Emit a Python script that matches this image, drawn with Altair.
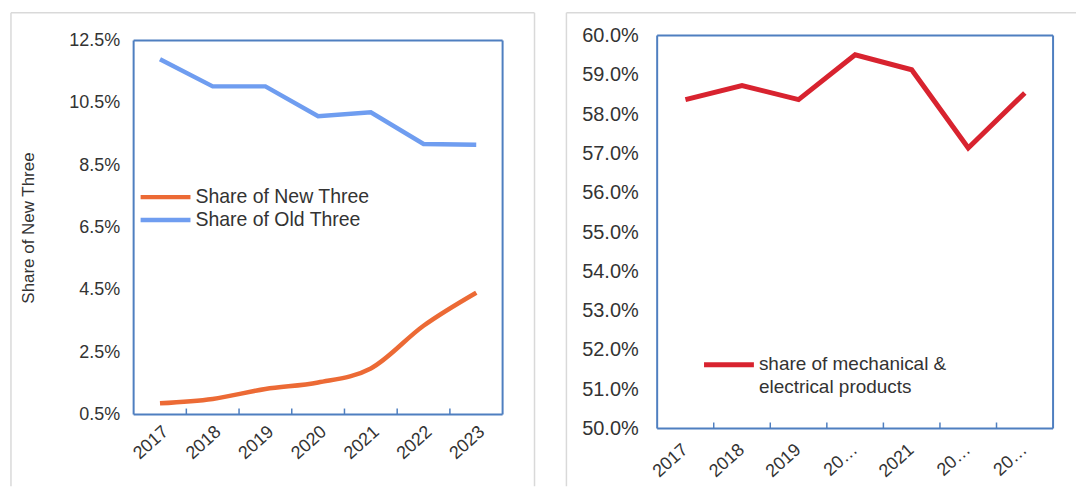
import altair as alt
import pandas as pd

# ---- data -------------------------------------------------------------
years = ["2017", "2018", "2019", "2020", "2021", "2022", "2023"]

new_three_share = [0.0086, 0.0100, 0.0132, 0.0153, 0.0198, 0.0335, 0.0441]
old_three_share = [0.1190, 0.1103, 0.1103, 0.1007, 0.1020, 0.0918, 0.0916]
mech_elec_share = [0.5837, 0.5873, 0.5837, 0.5951, 0.5913, 0.5714, 0.5854]

left_ticks = [0.005, 0.025, 0.045, 0.065, 0.085, 0.105, 0.125]
right_ticks = [0.50, 0.51, 0.52, 0.53, 0.54, 0.55, 0.56, 0.57, 0.58, 0.59, 0.60]

series_names = ["Share of New Three", "Share of Old Three"]
series_colors = ["#ec6a35", "#6f9df0"]
mech_lines = ["share of mechanical &", "electrical products"]
mech_color = "#d8232f"
short_years = ["2020", "2022", "2023"]  # shown shortened on the right axis

# ---- style ------------------------------------------------------------
FONT = "Liberation Sans"
TEXT = "#333333"
FRAME = "#4f7fc0"
BOX = "#d9d9d9"

# left view spans the same vertical extent as the right one; its plot
# frame starts 5px below the view top
LW, LVH, LTOP = 370, 380, 5
RW, RH = 397, 394


def rule(x, y, x2=None, y2=None, color=BOX, width=1.5):
    enc = {"x": alt.value(x), "y": alt.value(y)}
    if x2 is not None:
        enc["x2"] = alt.value(x2)
    if y2 is not None:
        enc["y2"] = alt.value(y2)
    return alt.Chart(pd.DataFrame({"k": [0]})).mark_rule(
        color=color, strokeWidth=width).encode(**enc)


def plot_frame(top, w, h):
    return [rule(0, top, x2=w, color=FRAME, width=2),
            rule(0, h, x2=w, color=FRAME, width=2),
            rule(0, top, y2=h, color=FRAME, width=2),
            rule(w, top, y2=h, color=FRAME, width=2)]


def x_axis(offset, padding, label_expr=None):
    kw = dict(title=None, labelAngle=-42, labelAlign="right", labelBaseline="top",
              labelPadding=padding, labelOffset=offset, labelFontSize=18,
              labelFont=FONT, labelColor=TEXT, ticks=False, domain=False,
              labelOverlap=False, labelBound=False, labelLimit=200)
    if label_expr:
        kw["labelExpr"] = label_expr
    return alt.Axis(**kw)


def inner_ticks(h, scale, axis):
    tdf = pd.DataFrame({"year": years[:-1]})
    return alt.Chart(tdf).mark_rule(color=FRAME, strokeWidth=1.5).encode(
        x=alt.X("year:N", bandPosition=1, scale=scale, axis=axis),
        y=alt.value(h), y2=alt.value(h - 6))


def legend_entry(x, y, color, lines, width, font_size, line_height=23):
    sym = rule(x, y, x2=x + 50, color=color, width=width)
    label = alt.Chart(pd.DataFrame({"k": [0]})).mark_text(
        align="left", baseline="line-top", font=FONT, fontSize=font_size,
        color=TEXT, lineHeight=line_height).encode(
        x=alt.value(x + 55), y=alt.value(y - line_height / 2),
        text=alt.value(lines))
    return [sym, label]


# ---- left panel: New Three vs Old Three ----------------------------
left_df = pd.DataFrame({
    "year": years * 2,
    "share": new_three_share + old_three_share,
    "series": [series_names[0]] * len(years) + [series_names[1]] * len(years),
})

lx_scale = alt.Scale(type="band", domain=years, paddingInner=0, paddingOuter=0)
lx_axis = x_axis(0, 8)
ly = alt.Y("share:Q",
           scale=alt.Scale(domain=[0.005, 0.125], range=[LVH, LTOP], nice=False, zero=False),
           axis=alt.Axis(values=left_ticks, format=".1%", title="Share of New Three",
                         titleFont=FONT, titleFontSize=17, titleFontWeight="normal",
                         titleColor=TEXT, titleAngle=-90, titleX=-105,
                         titleY=(LVH + LTOP) / 2,
                         titleAlign="center", titleBaseline="middle",
                         labelFontSize=18, labelFont=FONT, labelColor=TEXT,
                         labelPadding=14, ticks=False, domain=False, grid=False))
lcolor = alt.Color("series:N",
                   scale=alt.Scale(domain=series_names, range=series_colors),
                   legend=None)

new_line = alt.Chart(left_df).transform_filter(
    alt.datum.series == series_names[0]).mark_line(
    strokeWidth=4.5, interpolate="monotone").encode(
    x=alt.X("year:N", bandPosition=0.5, scale=lx_scale, axis=lx_axis),
    y=ly, color=lcolor)
old_line = alt.Chart(left_df).transform_filter(
    alt.datum.series == series_names[1]).mark_line(strokeWidth=4.5).encode(
    x=alt.X("year:N", bandPosition=0.5, scale=lx_scale, axis=lx_axis),
    y=ly, color=lcolor)

left = alt.layer(
    rule(-123, -23, x2=402),
    rule(-123, -23, y2=452),
    rule(402, -23, y2=452),
    *plot_frame(LTOP, LW, LVH),
    inner_ticks(LVH, lx_scale, lx_axis),
    new_line, old_line,
    *legend_entry(7, 162, series_colors[0], series_names[0], 4.5, 19.5),
    *legend_entry(7, 185, series_colors[1], series_names[1], 4.5, 19.5),
).properties(width=LW, height=LVH)

# ---- right panel: mechanical & electrical products -----------------
right_df = pd.DataFrame({"year": years, "share": mech_elec_share})

short_list = "[" + ",".join("'%s'" % y for y in short_years) + "]"
rx_scale = alt.Scale(type="band", domain=years, paddingInner=0, paddingOuter=0)
rx_axis = x_axis(-6, 12, "indexof(%s, datum.value) >= 0 ? '20\u2026' : datum.value" % short_list)

mech_line = alt.Chart(right_df).mark_line(strokeWidth=5, color=mech_color).encode(
    x=alt.X("year:N", bandPosition=0.5, scale=rx_scale, axis=rx_axis),
    y=alt.Y("share:Q",
            scale=alt.Scale(domain=[0.50, 0.60], nice=False, zero=False),
            axis=alt.Axis(values=right_ticks, format=".1%", title=None,
                          labelFontSize=20, labelFont=FONT, labelColor=TEXT,
                          labelPadding=19, ticks=False, domain=False, grid=False)),
)

right = alt.layer(
    rule(-91, -23, x2=420),
    rule(-91, -23, y2=452),
    *plot_frame(0, RW, RH),
    inner_ticks(RH, rx_scale, rx_axis),
    mech_line,
    *legend_entry(47, 330, mech_color, mech_lines, 5, 19),
).properties(width=RW, height=RH)

chart = alt.hconcat(left, right, spacing=30).properties(
    padding={"left": 10, "top": 11, "right": 0, "bottom": 0},
    background="white",
).configure_view(stroke=None)

chart.save("out.html", embed_options={"renderer": "svg", "actions": False})
